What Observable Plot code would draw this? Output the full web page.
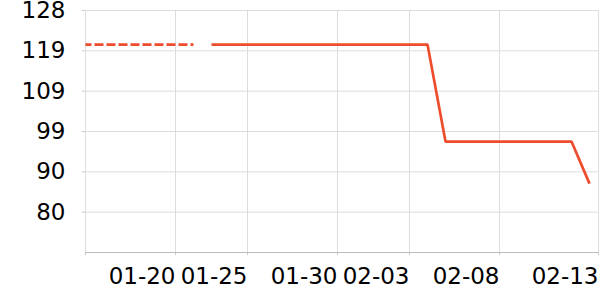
<!DOCTYPE html>
<html>
<head>
<meta charset="utf-8">
<script src="https://cdn.jsdelivr.net/npm/d3@7"></script>
<script src="https://cdn.jsdelivr.net/npm/@observablehq/plot@0.6"></script>
<style>
  html, body { margin: 0; padding: 0; background: white; }
</style>
</head>
<body>
<div id="chart"></div>
<script>
// Day index positions along the x axis
const dashedIndex = [0, 1, 2, 3, 4, 5, 6];
const dashedValues = [120.1, 120.1, 120.1, 120.1, 120.1, 120.1, 120.1];

const solidIndex = [7, 8, 9, 10, 11, 12, 13, 14, 15, 16, 17, 18, 19, 20, 21, 22, 23, 24, 25, 26, 27, 28];
const solidValues = [120.1, 120.1, 120.1, 120.1, 120.1, 120.1, 120.1, 120.1, 120.1, 120.1, 120.1, 120.1, 120.1,
                     97.0, 97.0, 97.0, 97.0, 97.0, 97.0, 97.0, 97.0, 87.0];

// X tick positions (day index) and their labels
const xTickIndex = [0, 5, 9, 14, 18, 23, 28.5];
const xTickLabels = ["", "01-20", "01-25", "01-30", "02-03", "02-08", "02-13"];

// Y ticks
const yTicks = [80.2, 89.8, 99.4, 109.0, 118.6, 128.2];
const yDomain = [70.6, 128.2];
const xDomain = [0, 28.5];

const dashed = dashedIndex.map((x, i) => ({x, y: dashedValues[i]}));
const solid = solidIndex.map((x, i) => ({x, y: solidValues[i]}));
const labelMap = new Map(xTickIndex.map((d, i) => [d, xTickLabels[i]]));

const color = "#ee4d2d";

const chart = Plot.plot({
  width: 600,
  height: 300,
  marginLeft: 85,
  marginRight: 2,
  marginTop: 10,
  marginBottom: 48,
  style: {fontFamily: "DejaVu Sans", fontSize: "23px", color: "black", background: "white", overflow: "visible"},
  x: {type: "linear", domain: xDomain, label: null},
  y: {domain: yDomain, label: null},
  marks: [
    Plot.gridX(xTickIndex, {stroke: "#dddddd", strokeOpacity: 1}),
    Plot.gridY(yTicks, {stroke: "#dddddd", strokeOpacity: 1}),
    Plot.axisY(yTicks, {tickSize: 3, tickPadding: 17, tickFormat: d => Math.round(d), stroke: "#cccccc", fill: "black", label: null}),
    Plot.axisX(xTickIndex, {tickSize: 3, tickPadding: 12, tickFormat: d => labelMap.get(d), textAnchor: "end", stroke: "#cccccc", fill: "black", label: null}),
    Plot.ruleY([yDomain[0]], {stroke: "#bbbbbb"}),
    Plot.line(dashed, {x: "x", y: "y", stroke: color, strokeWidth: 2.7, strokeDasharray: "9,3", strokeDashoffset: 3, strokeLinecap: "butt"}),
    Plot.line(solid, {x: "x", y: "y", stroke: color, strokeWidth: 2.7, strokeLinecap: "butt", strokeLinejoin: "miter"})
  ]
});
document.getElementById("chart").appendChild(chart);
</script>
</body>
</html>
